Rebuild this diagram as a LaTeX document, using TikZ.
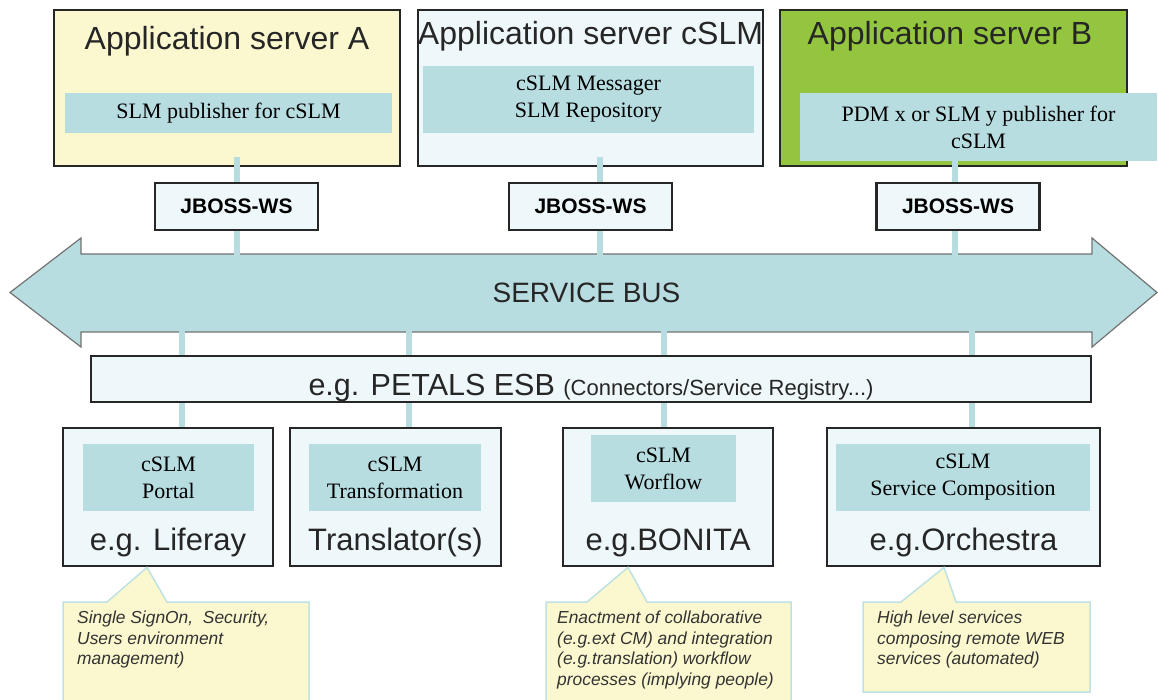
\documentclass[tikz,border=0pt]{standalone}
\usepackage{fontspec}
\setmainfont{Liberation Sans}
\newfontfamily\serifface{Liberation Serif}
\usetikzlibrary{positioning, calc, backgrounds}

\definecolor{boxline}{HTML}{262626}
\definecolor{innerblue}{HTML}{B8DDE1}
\definecolor{paleblue}{HTML}{EEF7F9}
\definecolor{paleyellow}{HTML}{FBF8CF}
\definecolor{srvgreen}{HTML}{93C63E}
\definecolor{busline}{HTML}{727272}
\definecolor{noteline}{HTML}{BEE1E4}

\begin{document}
\begin{tikzpicture}[
 x=1pt, y=-1pt,
 boxframe/.style={rectangle, draw=boxline, line width=2.8pt, inner sep=0pt, outer sep=0pt},
 srv/.style={boxframe, minimum width=346pt, minimum height=156pt},
 srvtitle/.style={anchor=base, inner sep=0pt, font=\fontsize{32}{38}\selectfont, text=black!85},
 innerbox/.style={rectangle, fill=innerblue, inner sep=0pt, outer sep=0pt, align=center, font=\serifface\fontsize{22}{27}\selectfont},
 wsbox/.style={boxframe, fill=paleblue, minimum width=163pt, minimum height=47pt, font=\bfseries\fontsize{21}{25}\selectfont},
 toolbox/.style={boxframe, fill=paleblue, minimum height=138pt},
 toolname/.style={anchor=base, inner sep=0pt, font=\fontsize{31}{37}\selectfont, text=black!85},
 wslink/.style={draw=innerblue, line width=6.5pt},
 notetext/.style={anchor=north west, align=left, inner sep=0pt, font=\itshape\fontsize{17.4}{20.5}\selectfont, text=black!80},
 notebox/.style={fill=paleyellow, draw=noteline, line width=1.5pt, line join=miter}
]
\useasboundingbox (0,0) rectangle (1158,700);

% application servers
\node[srv, fill=paleyellow] (srvA) at (227,88) {};
\node[srv, fill=paleblue, minimum width=345pt] (srvC) at (590.5,88) {};
\node[srv, fill=srvgreen, minimum width=347pt] (srvB) at (953.5,88) {};
\node[srvtitle] (tA) at (227,50) {Application server A};
\node[srvtitle] (tC) at (590.5,45) {Application server cSLM};
\node[srvtitle] (tB) at (950,45) {Application server B};
\node[innerbox, minimum width=327pt, minimum height=40pt] (pubA) at (228.5,113) {SLM publisher for cSLM};
\node[innerbox, minimum width=331pt, minimum height=67pt] (msgC) at (588.5,99.5) {cSLM Messager\\SLM Repository};
\node[innerbox, minimum width=357pt, minimum height=68pt] (pubB) at (978.5,127) {PDM x or SLM y publisher for\\cSLM};

% service bus
\node[minimum width=1011pt, minimum height=78pt, inner sep=0pt, outer sep=0pt, font=\fontsize{28}{34}\selectfont, text=black!85] (bus) at (586.5,293) {SERVICE BUS};
\begin{scope}[on background layer]
\draw[fill=innerblue, draw=busline, line width=1.2pt] (bus.north west) -- (bus.north east) -- ++(0,-16) -- ++(65,54.5) -- ++(-65,54.5) -- ++(0,-15) -- (bus.south west) -- ++(0,15) -- ++(-71,-54.5) -- ++(71,-54.5) -- cycle;
\end{scope}

\draw[wslink] ($(srvA.south)+(10,-9)$) -- ($(srvA.south |- bus.north)+(10,1)$);
\draw[wslink] ($(srvC.south)+(9.5,-9)$) -- ($(srvC.south |- bus.north)+(9.5,1)$);
\draw[wslink] ($(srvB.south)+(1.5,-9)$) -- ($(srvB.south |- bus.north)+(1.5,1)$);

\node[wsbox] (wsA) at (236.5,206.5) {JBOSS-WS};
\node[wsbox] (wsC) at (590.5,206.5) {JBOSS-WS};
\node[wsbox] (wsB) at (958,206.5) {JBOSS-WS};

% tools
\node[toolbox, minimum width=210pt] (b1) at (168,497) {};
\node[toolbox, minimum width=211pt] (b2) at (395.5,497) {};
\node[toolbox, minimum width=210pt] (b3) at (668,497) {};
\node[toolbox, minimum width=273pt] (b4) at (963.5,497) {};
\node[innerbox, minimum width=171pt, minimum height=67pt] (i1) at (168.5,477.5) {cSLM\\Portal};
\node[innerbox, minimum width=172pt, minimum height=67pt] (i2) at (395,477.5) {cSLM\\Transformation};
\node[innerbox, minimum width=145pt, minimum height=67pt] (i3) at (663.5,468.5) {cSLM\\Worflow};
\node[innerbox, minimum width=254pt, minimum height=67pt] (i4) at (963,477.5) {cSLM\\Service Composition};
\node[toolname] (l1) at (168,550) {e.g. Liferay};
\node[toolname] (l2) at (395.5,550) {Translator(s)};
\node[toolname] (l3) at (668,550) {e.g.BONITA};
\node[toolname] (l4) at (963.5,550) {e.g.Orchestra};

\draw[wslink] ($(b1.north |- bus.south)+(14,-1)$) -- ($(b1.north)+(14,-1.4)$);
\draw[wslink] ($(b2.north |- bus.south)+(13.5,-1)$) -- ($(b2.north)+(13.5,-1.4)$);
\draw[wslink] ($(b3.north |- bus.south)+(-4,-1)$) -- ($(b3.north)+(-4,-1.4)$);
\draw[wslink] ($(b4.north |- bus.south)+(8.5,-1)$) -- ($(b4.north)+(8.5,-1.4)$);

% esb
\node[boxframe, fill=paleblue, minimum width=1000pt, minimum height=46pt, text height=38pt, text depth=6pt, text=black!85] (esb) at (591,379) {\fontsize{30.5}{36}\selectfont e.g. PETALS ESB \fontsize{22}{26}\selectfont(Connectors/Service Registry...)};

% notes
\filldraw[notebox] (63,602) -- (107,602) -- ($(b1.south)+(-21,1.4)$) -- (167,602) -- (309,602) -- (309,712) -- (63,712) -- cycle;
\filldraw[notebox] (546,602) -- (587,602) -- ($(b3.south)+(-40,1.4)$) -- (647,602) -- (791,602) -- (791,712) -- (546,712) -- cycle;
\filldraw[notebox] (863,602) -- (901,602) -- ($(b4.south)+(-19.5,1.4)$) -- (956,602) -- (1090,602) -- (1090,692) -- (863,692) -- cycle;
\node[notetext] (n1) at (77,611) {Single SignOn,\ \ Security,\\Users environment\\management)};
\node[notetext] (n3) at (557,611) {Enactment of collaborative\\(e.g.ext CM) and integration\\(e.g.translation) workflow\\processes (implying people)};
\node[notetext] (n4) at (877,611) {High level services\\composing remote WEB\\services (automated)};
\end{tikzpicture}
\end{document}
